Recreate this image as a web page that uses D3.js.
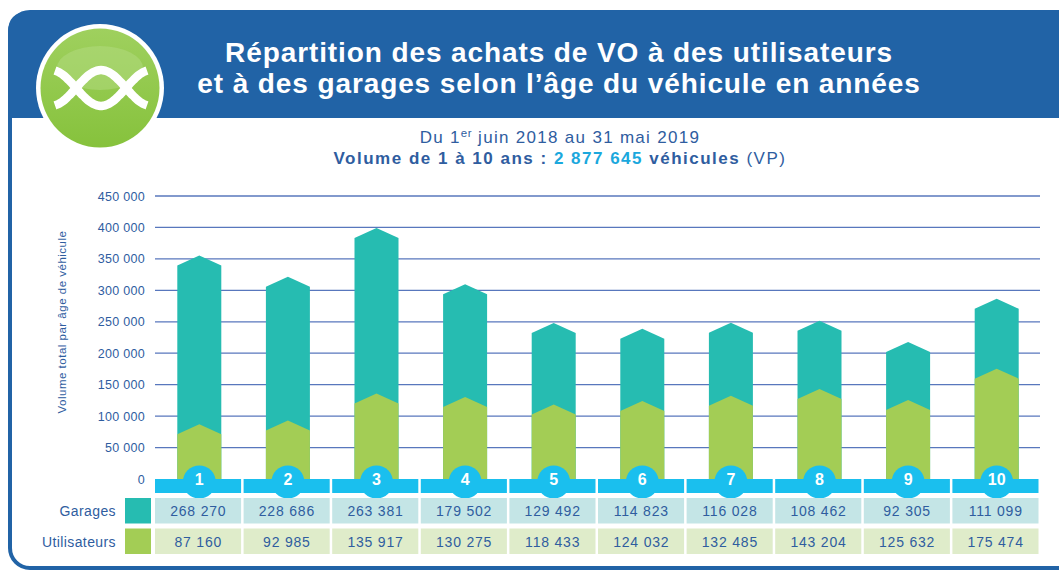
<!DOCTYPE html>
<html>
<head>
<meta charset="utf-8">
<script src="https://cdn.jsdelivr.net/npm/d3@7"></script>
<style>
  html, body { margin: 0; padding: 0; background: #fff; }
  svg { display: block; font-family: "Liberation Sans", Arial, sans-serif; }
</style>
</head>
<body>
<svg id="chart" width="1059" height="572"></svg>
<script>
// ages (categories) and the two series
var ages = ["1", "2", "3", "4", "5", "6", "7", "8", "9", "10"];
var garages = [268270, 228686, 263381, 179502, 129492, 114823, 116028, 108462, 92305, 111099];
var utilisateurs = [87160, 92985, 135917, 130275, 118433, 124032, 132485, 143204, 125632, 175474];
var yTicks = [0, 50000, 100000, 150000, 200000, 250000, 300000, 350000, 400000, 450000];

var blue = "#2163a6", textBlue = "#2f5d9f", cyan = "#1abfee";
var teal = "#26bcb1", green = "#a3cd55";

var svg = d3.select("#chart");

// frame
svg.append("rect")
  .attr("x", 10).attr("y", 12).attr("width", 1100).attr("height", 556)
  .attr("rx", 20).attr("fill", "#fff")
  .attr("stroke", blue).attr("stroke-width", 4);
svg.append("path")
  .attr("d", "M8,118 L8,32 Q8,12 28,12 L1080,12 L1080,118 Z")
  .attr("fill", blue);

// logo
var defs = svg.append("defs");
var grad = defs.append("linearGradient").attr("id", "lg").attr("x1", 0).attr("y1", 0).attr("x2", 0).attr("y2", 1);
grad.append("stop").attr("offset", "0%").attr("stop-color", "#9fd05e");
grad.append("stop").attr("offset", "100%").attr("stop-color", "#86c23c");
svg.append("circle").attr("cx", 100).attr("cy", 88).attr("r", 64).attr("fill", "#fff");
svg.append("circle").attr("cx", 100).attr("cy", 88).attr("r", 59.5).attr("fill", "url(#lg)");
svg.append("ellipse").attr("cx", 100).attr("cy", 68).attr("rx", 43).attr("ry", 22)
  .attr("fill", "#b3dc82").attr("opacity", 0.5);
var wave = function(sign) {
  return d3.line().curve(d3.curveBasis)(d3.range(55, 147.5, 2).map(function(x) {
    return [x, 88 + sign * 18 * Math.cos(2 * Math.PI * (x - 101) / 100)];
  }));
};
[1, -1].forEach(function(s) {
  svg.append("path").attr("d", wave(s)).attr("fill", "none")
    .attr("stroke", "#fff").attr("stroke-width", 8.5).attr("stroke-linecap", "butt");
});

// title
var title = svg.append("text").attr("text-anchor", "middle").attr("fill", "#fff")
  .attr("font-weight", "bold").attr("font-size", 28).attr("letter-spacing", 0.9);
title.append("tspan").attr("x", 559).attr("y", 61.5).text("Répartition des achats de VO à des utilisateurs");
title.append("tspan").attr("x", 559).attr("y", 93).text("et à des garages selon l’âge du véhicule en années");

// subtitle
var sub1 = svg.append("text").attr("x", 560).attr("y", 142.5).attr("text-anchor", "middle")
  .attr("fill", textBlue).attr("font-size", 17).attr("letter-spacing", 1.3);
sub1.append("tspan").text("Du 1");
sub1.append("tspan").attr("font-size", 11.5).attr("dy", -6).attr("letter-spacing", 0.5).text("er");
sub1.append("tspan").attr("dy", 6).text(" juin 2018 au 31 mai 2019");

var sub2 = svg.append("text").attr("x", 560).attr("y", 164).attr("text-anchor", "middle")
  .attr("fill", textBlue).attr("font-size", 17).attr("font-weight", "bold").attr("letter-spacing", 1.5);
sub2.append("tspan").text("Volume de 1 à 10 ans : ");
sub2.append("tspan").attr("fill", "#1ba8dd").text("2 877 645");
sub2.append("tspan").text(" véhicules ");
sub2.append("tspan").attr("font-weight", "normal").text("(VP)");

// scales
var x = d3.scaleBand().domain(ages).range([155, 1041]);
var y = d3.scaleLinear().domain([0, 450000]).range([479, 196]);
var fmt = function(v) { return d3.format(",")(v).replace(/,/g, " "); };

// gridlines + y labels
var yAxis = d3.axisLeft(y).tickValues(yTicks).tickSize(0).tickPadding(0).tickFormat(fmt);
var ga = svg.append("g").attr("transform", "translate(145,0)").call(yAxis);
ga.select(".domain").remove();
ga.selectAll("text").attr("fill", textBlue).attr("font-size", 12.5)
  .attr("font-family", "'Liberation Sans', Arial, sans-serif").attr("letter-spacing", 0.3);

svg.append("g").selectAll("line").data(yTicks.slice(1)).join("line")
  .attr("x1", 155).attr("x2", 1040)
  .attr("y1", function(d) { return y(d); }).attr("y2", function(d) { return y(d); })
  .attr("stroke", "#5877bd").attr("stroke-width", 1.3);

svg.append("text")
  .attr("transform", "translate(66,322) rotate(-90)")
  .attr("text-anchor", "middle").attr("fill", textBlue).attr("font-size", 11.5)
  .attr("letter-spacing", 0.5)
  .text("Volume total par âge de véhicule");

// bars with chevron tops
var bw = 44, notch = 10;
var chevron = function(cx, top) {
  var l = cx - bw / 2, r = cx + bw / 2;
  return "M" + l + "," + y(0) + "L" + l + "," + (top + notch) + "L" + cx + "," + top +
    "L" + r + "," + (top + notch) + "L" + r + "," + y(0) + "Z";
};
var bars = svg.append("g");
ages.forEach(function(a, i) {
  var cx = x(a) + x.bandwidth() / 2;
  bars.append("path").attr("d", chevron(cx, y(garages[i] + utilisateurs[i]))).attr("fill", teal);
  bars.append("path").attr("d", chevron(cx, y(utilisateurs[i]))).attr("fill", green);
});

// cyan band with numbered domes
var band = svg.append("g");
band.selectAll("circle").data(ages).join("circle")
  .attr("cx", function(d) { return x(d) + x.bandwidth() / 2; })
  .attr("cy", 482).attr("r", 16.5).attr("fill", cyan);
band.selectAll("rect").data(ages).join("rect")
  .attr("x", function(d) { return x(d); }).attr("y", 479)
  .attr("width", x.bandwidth() - 2.5).attr("height", 14).attr("fill", cyan);
band.selectAll("text").data(ages).join("text")
  .attr("x", function(d) { return x(d) + x.bandwidth() / 2; })
  .attr("y", 485).attr("text-anchor", "middle").attr("fill", "#fff")
  .attr("font-weight", "bold").attr("font-size", 16).text(function(d) { return d; });

// table
var rows = [
  { name: "Garages", values: garages, color: teal, bg: "#c4e5e6", y: 498 },
  { name: "Utilisateurs", values: utilisateurs, color: green, bg: "#dfecca", y: 528.5 }
];
rows.forEach(function(row) {
  var g = svg.append("g");
  g.append("text").attr("x", 116).attr("y", row.y + 18).attr("text-anchor", "end")
    .attr("fill", textBlue).attr("font-size", 14).attr("letter-spacing", 0.4).text(row.name);
  g.append("rect").attr("x", 125).attr("y", row.y).attr("width", 26).attr("height", 25.5)
    .attr("fill", row.color);
  g.selectAll("rect.cell").data(row.values).join("rect").attr("class", "cell")
    .attr("x", function(d, i) { return x(ages[i]); }).attr("y", row.y)
    .attr("width", x.bandwidth() - 2.5).attr("height", 25.5).attr("fill", row.bg);
  g.selectAll("text.val").data(row.values).join("text").attr("class", "val")
    .attr("x", function(d, i) { return x(ages[i]) + x.bandwidth() / 2 - 1; })
    .attr("y", row.y + 18).attr("text-anchor", "middle")
    .attr("fill", textBlue).attr("font-size", 14).attr("letter-spacing", 0.8).text(fmt);
});
</script>
</body>
</html>
